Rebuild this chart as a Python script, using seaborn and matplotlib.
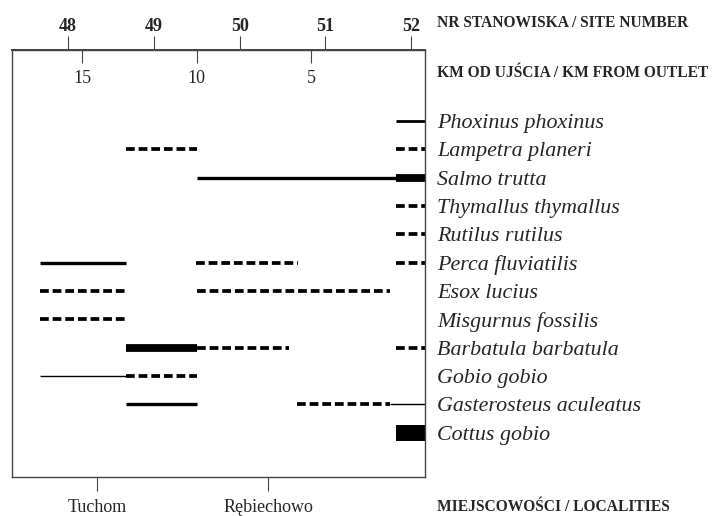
import numpy as np
import pandas as pd
import matplotlib
matplotlib.use("Agg")
import matplotlib.pyplot as plt
import seaborn as sns

# ---------------- data ----------------
species = ["Phoxinus phoxinus", "Lampetra planeri", "Salmo trutta",
           "Thymallus thymallus", "Rutilus rutilus", "Perca fluviatilis",
           "Esox lucius", "Misgurnus fossilis", "Barbatula barbatula",
           "Gobio gobio", "Gasterosteus aculeatus", "Cottus gobio"]

site_numbers = ["48", "49", "50", "51", "52"]
site_km = [15.62, 11.87, 8.1, 4.38, 0.63]

km_ticks = [15, 10, 5]

localities = ["Tuchom", "Rębiechowo"]
locality_km = [14.36, 6.87]

# segments: species, start km, end km, line kind, weight
seg_species = ["Phoxinus phoxinus",
               "Lampetra planeri", "Lampetra planeri",
               "Salmo trutta", "Salmo trutta",
               "Thymallus thymallus",
               "Rutilus rutilus",
               "Perca fluviatilis", "Perca fluviatilis", "Perca fluviatilis",
               "Esox lucius", "Esox lucius",
               "Misgurnus fossilis",
               "Barbatula barbatula", "Barbatula barbatula", "Barbatula barbatula",
               "Gobio gobio", "Gobio gobio",
               "Gasterosteus aculeatus", "Gasterosteus aculeatus", "Gasterosteus aculeatus",
               "Cottus gobio"]
seg_start = [1.28,
             13.1, 1.28,
             10.0, 1.28,
             1.28,
             1.28,
             16.86, 10.05, 1.28,
             16.86, 10.0,
             16.86,
             13.1, 10.0, 1.28,
             16.86, 13.1,
             13.1, 5.6, 1.54,
             1.28]
seg_end = [0.0,
           10.0, 0.0,
           1.28, 0.0,
           0.0,
           0.0,
           13.1, 5.57, 0.0,
           13.1, 1.54,
           13.1,
           10.0, 5.96, 0.0,
           13.1, 10.0,
           10.0, 1.54, 0.0,
           0.0]
seg_kind = ["solid",
            "dashed", "dashed",
            "solid", "solid",
            "dashed",
            "dashed",
            "solid", "dashed", "dashed",
            "dashed", "dashed",
            "dashed",
            "solid", "dashed", "dashed",
            "solid", "dashed",
            "solid", "dashed", "solid",
            "solid"]
seg_weight = ["normal",
              "dash", "dash",
              "medium", "thick",
              "dash",
              "dash",
              "medium", "dash", "dash",
              "dash", "dash",
              "dash",
              "thick", "dash", "dash",
              "thin", "dash",
              "medium", "dash", "thin",
              "block"]

# ---------------- styling ----------------
sns.set_theme(style="white")
plt.rcParams["font.family"] = ["Liberation Serif", "DejaVu Serif"]
plt.rcParams["lines.scale_dashes"] = False
plt.rcParams["lines.solid_capstyle"] = "butt"
plt.rcParams["lines.dash_capstyle"] = "butt"

row_of = {s: i for i, s in enumerate(species)}
records = []
for i, (sp, a, b, k, w) in enumerate(zip(seg_species, seg_start, seg_end, seg_kind, seg_weight)):
    records.append({"seg": i, "km": a, "row": row_of[sp], "kind": k, "weight": w})
    records.append({"seg": i, "km": b, "row": row_of[sp], "kind": k, "weight": w})
df = pd.DataFrame(records)

fig = plt.figure(figsize=(7.14, 5.16), dpi=100)
W, H = 714, 516
x0, x1, y0, y1 = 11.7, 425.3, 50, 476.5
ax = fig.add_axes([x0 / W, 1 - y1 / H, (x1 - x0) / W, (y1 - y0) / H])

sns.lineplot(data=df, x="km", y="row", units="seg", estimator=None, sort=False,
             style="kind", dashes={"solid": "", "dashed": (6.3, 2.8)},
             size="weight", sizes={"thin": 1.0, "normal": 2.0, "medium": 2.4,
                                   "dash": 2.7, "thick": 5.6, "block": 11.5},
             color="black", legend=False, ax=ax)

ax.set_xlim(18.09, 0)
ax.set_ylim(12.54, -2.5)
ax.set_xlabel("")
ax.set_ylabel("")

for sp in ax.spines.values():
    sp.set_visible(True)
    sp.set_color("#444444")
    sp.set_linewidth(1.0)

# species labels on right
ax.set_yticks(range(len(species)), labels=species)
ax.yaxis.tick_right()
ax.tick_params(axis="y", length=0, pad=8.5, labelsize=15.8)
for t in ax.get_yticklabels():
    t.set_fontstyle("italic")

# bottom localities
ax.set_xticks(locality_km, labels=localities)
ax.tick_params(axis="x", bottom=True, top=False, direction="out", length=10.4,
               width=0.8, color="#444444", pad=5.5, labelsize=13)

# top site numbers
sec1 = ax.secondary_xaxis("top")
sec1.set_xticks(site_km, labels=site_numbers)
sec1.tick_params(direction="out", length=10, width=0.8, color="#444444", pad=0.5,
                 labelsize=13)
for t in sec1.get_xticklabels():
    t.set_fontweight("bold")
sec1.spines["top"].set_color("#444444")

# top km ticks (inward, labels inside)
sec2 = ax.secondary_xaxis("top")
sec2.set_xticks(km_ticks, labels=[str(k) for k in km_ticks])
sec2.tick_params(direction="in", length=9.4, width=0.8, color="#444444", pad=-26.5,
                 labelsize=13)
sec2.spines["top"].set_color("#444444")

# header texts
fig.text(437 / W, 1 - 27.3 / H, "NR STANOWISKA / SITE NUMBER", fontsize=11.2,
         fontweight="bold", va="baseline", ha="left")
fig.text(437 / W, 1 - 77.3 / H, "KM OD UJŚCIA / KM FROM OUTLET", fontsize=11.2,
         fontweight="bold", va="baseline", ha="left")
fig.text(437 / W, 1 - 510.7 / H, "MIEJSCOWOŚCI / LOCALITIES", fontsize=11.2,
         fontweight="bold", va="baseline", ha="left")

fig.savefig("out.png", dpi=100, facecolor="white")
